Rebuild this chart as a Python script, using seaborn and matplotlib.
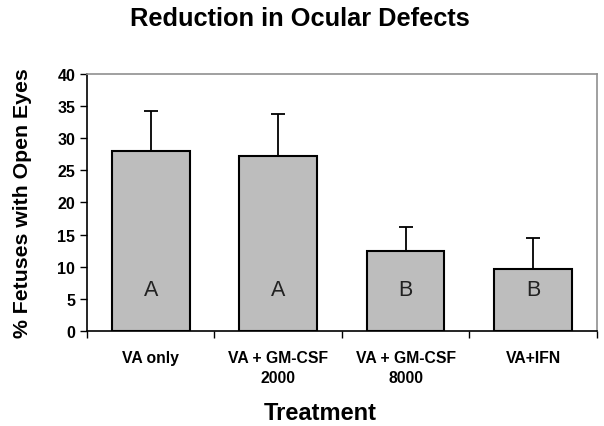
import numpy as np
import pandas as pd
import seaborn as sns
import matplotlib.pyplot as plt
from matplotlib.ticker import FixedLocator

treatments = ["VA only", "VA + GM-CSF\n2000", "VA + GM-CSF\n8000", "VA+IFN"]
pct_open = [28.0, 27.2, 12.4, 9.7]
err_up = [6.3, 6.5, 3.8, 4.8]
groups = ["A", "A", "B", "B"]


def make_plot():
    sns.set_theme(style="white", rc={"text.color": "black", "axes.labelcolor": "black",
                                     "xtick.color": "black", "ytick.color": "black"})
    plt.rcParams['font.family'] = ['Liberation Sans', 'DejaVu Sans']
    fig = plt.figure(figsize=(6.04, 4.27), dpi=100)
    ax = fig.add_axes([0.144, 0.2225, 0.844, 0.602])

    data = pd.DataFrame({"treatment": treatments, "pct": pct_open})
    sns.barplot(ax=ax, data=data, x="treatment", y="pct", color="#C0C0C0",
                saturation=1, width=0.61, edgecolor="black", linewidth=1.5)
    for p in ax.patches:
        p.set_facecolor("#BDBDBD")

    x = np.arange(len(treatments))
    ax.errorbar(x, pct_open, yerr=[np.zeros(len(err_up)), err_up], fmt="none",
                ecolor="black", elinewidth=1.3, capsize=5, capthick=1.3)

    for i, g in enumerate(groups):
        ax.text(i, 6.5, g, ha="center", va="center", fontsize=15.5, color="#222222")

    ax.set_xlim(-0.5, 3.5)
    ax.set_ylim(0, 40)
    ax.set_yticks(range(0, 41, 5))
    ax.xaxis.set_major_locator(FixedLocator([-0.5, 0.5, 1.5, 2.5, 3.5]))
    ax.xaxis.set_minor_locator(FixedLocator(list(x)))
    ax.set_xticklabels([], minor=False)
    ax.set_xticklabels(treatments, minor=True, fontweight="bold", fontsize=11.3,
                       linespacing=1.35)
    ax.tick_params(axis="x", which="major", direction="out", length=5, width=1, color="black", bottom=True)
    ax.tick_params(axis="x", which="minor", length=0, pad=14)
    ax.tick_params(axis="y", direction="out", length=5, width=1, color="black", left=True,
                   labelsize=11.5)
    for lbl in ax.get_yticklabels():
        lbl.set_fontweight("bold")

    for side in ["left", "bottom"]:
        ax.spines[side].set_color("black")
        ax.spines[side].set_linewidth(1.2)
    for side in ["top", "right"]:
        ax.spines[side].set_color("#909090")
        ax.spines[side].set_linewidth(1.2)

    ax.set_xlabel("")
    ax.set_ylabel("% Fetuses with Open Eyes", fontsize=15.3, fontweight="bold", labelpad=18)
    fig.text(0.531, 1 - 414 / 427, "Treatment", ha="center", va="center",
             fontsize=17, fontweight="bold")
    fig.text(0.497, 1 - 19 / 427, "Reduction in Ocular Defects", ha="center", va="center",
             fontsize=18.3, fontweight="bold")

    fig.savefig("out.png", dpi=100)


if __name__ == '__main__':
    make_plot()
